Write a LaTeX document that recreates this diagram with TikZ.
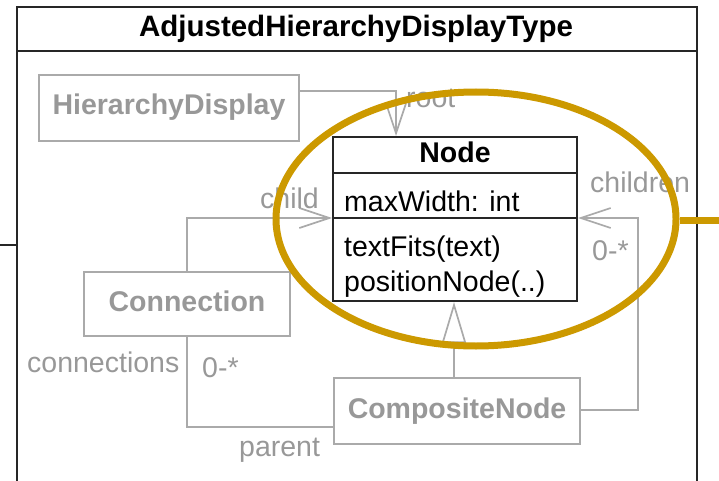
\documentclass[tikz,border=0pt]{standalone}
\usepackage{fontspec}
\setmainfont{Liberation Sans}
\usetikzlibrary{arrows.meta,shapes.geometric}
\definecolor{umlgray}{RGB}{170,170,170}
\definecolor{labelgray}{RGB}{152,152,152}
\definecolor{focus}{RGB}{204,153,0}
\begin{document}
\begin{tikzpicture}[x=1pt,y=-1pt,
  font=\fontsize{28.5}{32}\selectfont,
  frameline/.style={draw=black!85, line width=2.4pt},
  classbox/.style={draw=black!85, line width=2pt, inner sep=0pt},
  greybox/.style={draw=umlgray, line width=2pt, inner sep=0pt, text=labelgray,
    text height=20pt, text depth=6pt, font=\fontsize{28.5}{32}\selectfont\bfseries},
  assoc/.style={draw=umlgray, line width=1.7pt},
  navarrow/.style={-{Straight Barb[length=30pt,width=20pt]}},
  genarrow/.style={-{Triangle[open,length=41pt,width=24pt]}},
  lbl/.style={text=labelgray, inner sep=0pt, anchor=base west},
  txt/.style={inner sep=0pt, anchor=base west},
  highlight/.style={draw=focus, line width=7pt}]
\clip (0,0) rectangle (719,481);

% package frame with its title compartment
\coordinate (frameTL) at (17,7);
\coordinate (frameTR) at (697,7);
\draw[frameline] (frameTL |- 0,500) -- (frameTL) -- (frameTR) -- (frameTR |- 0,500);
\draw[frameline] (frameTL |- 0,51) -- (frameTR |- 0,51);
\node[inner sep=0pt, anchor=base, font=\fontsize{29.5}{32}\selectfont\bfseries] (title) at (356,37) {AdjustedHierarchyDisplayType};

% external connection entering the frame
\coordinate (ext) at (0,245);
\draw[frameline] (ext) -- (ext -| frameTL);

% classes
\node[greybox, minimum width=260pt, minimum height=66pt] (hd) at (169,108) {HierarchyDisplay};
\node[greybox, minimum width=206pt, minimum height=64pt] (conn) at (187,304) {Connection};
\node[greybox, minimum width=246pt, minimum height=66pt] (comp) at (457,411) {CompositeNode};

\node[classbox, minimum width=244pt, minimum height=164pt] (cls) at (455,219) {};
\draw[classbox] (cls.west |- 0,173) -- (cls.east |- 0,173);
\draw[classbox] (cls.west |- 0,218) -- (cls.east |- 0,218);
\node[inner sep=0pt, anchor=base, font=\fontsize{28.5}{32}\selectfont\bfseries] (clsname) at (455,162) {Node};
\node[txt] (attr) at (344,211) {maxWidth: int};
\node[txt] (op1) at (344,256) {textFits(text)};
\node[txt] (op2) at (344,291) {positionNode(..)};

% associations
\coordinate (r) at (396,91);
\draw[assoc, navarrow] (hd.east |- r) -- (r) -- (r |- cls.north);
\node[lbl] (lroot) at (406,108) {root};

\coordinate (c) at (187,218);
\draw[assoc, navarrow] (conn.north -| c) -- (c) -- (c -| cls.west);
\node[lbl] (lchild) at (260,208) {child};

\coordinate (ch) at (638,218);
\coordinate (chb) at (638,410);
\draw[assoc, navarrow] (comp.east |- chb) -- (chb) -- (ch) -- (ch -| cls.east);
\node[lbl] (lchildren) at (590,192) {children};
\node[lbl] (lmany1) at (592,260) {0-*};

\coordinate (cb) at (187,427);
\draw[assoc] (conn.south -| cb) -- (cb) -- (cb -| comp.west);
\node[lbl] (lconns) at (27,372) {connections};
\node[lbl] (lmany2) at (202,377) {0-*};
\node[lbl] (lparent) at (239,456) {parent};

% generalization
\coordinate (g) at (454,0);
\draw[assoc, genarrow] (g |- comp.north) -- (g |- cls.south);

% highlight
\node[highlight, ellipse, inner sep=0pt, minimum width=400pt, minimum height=254pt] (hl) at (476,219) {};
\coordinate (out) at (719,220);
\draw[highlight] (hl.east |- out) -- (out);
\end{tikzpicture}
\end{document}
